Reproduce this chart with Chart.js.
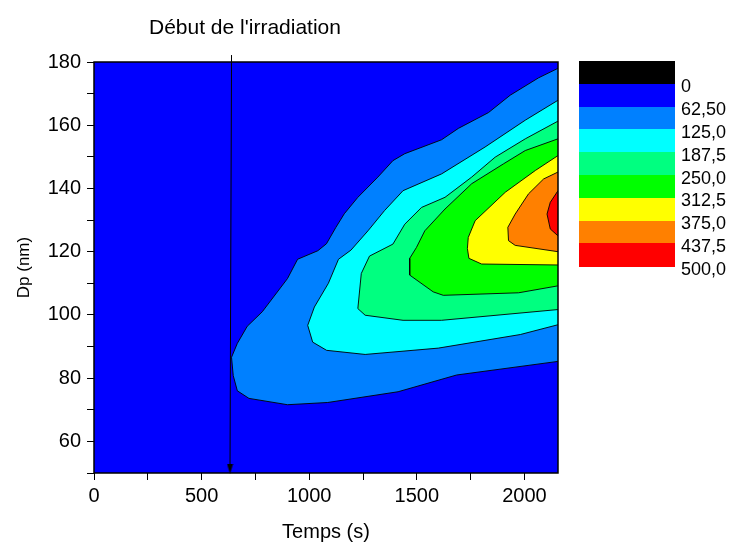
<!DOCTYPE html>
<html>
<head>
<meta charset="utf-8">
<script src="https://cdn.jsdelivr.net/npm/chart.js@4.4.0/dist/chart.umd.min.js"></script>
<style>
  html, body { margin: 0; padding: 0; background: #fff; }
  #wrap { position: relative; width: 733px; height: 543px; font-family: "Liberation Sans", Arial, sans-serif; color: #000; }
  #chart { position: absolute; left: 0; top: 0; }
  .note { position: absolute; left: 149px; top: 27px; transform: translateY(-50%); font-size: 21px; white-space: nowrap; }
  .keyBar { position: absolute; left: 579px; width: 96px; }
  .keyLabel { position: absolute; left: 681px; font-size: 18px; line-height: 1; transform: translateY(-50%); white-space: nowrap; }
</style>
</head>
<body>
<div id="wrap">
  <canvas id="chart" width="733" height="543"></canvas>
  <div class="note">Début de l'irradiation</div>
  <div id="legend"></div>
</div>
<script>
// =====================================================
// CONTOUR DATA (Temps in s, Dp in nm)
// =====================================================

const levelLabels = ["0", "62,50", "125,0", "187,5", "250,0", "312,5", "375,0", "437,5", "500,0"];
const levelColors = ["#000000", "#0000FF", "#0080FF", "#00FFFF", "#00FF80", "#00FF00", "#FFFF00", "#FF8000", "#FF0000"];

const xTicksMajor = [0, 500, 1000, 1500, 2000];
const yTicksMajor = [60, 80, 100, 120, 140, 160, 180];

// boundary of each level, both ends on the right edge
const c62 = [
  [2156, 178], [2066, 175], [1934, 169.5], [1833, 164], [1693, 159], [1615, 155.4],
  [1444, 151], [1389, 148.8], [1319, 143.6], [1226, 137.2], [1163, 132], [1124, 127.7],
  [1080, 122.5], [1040, 120.3], [946, 117.6], [899, 111.5], [782, 101], [712, 96.4],
  [666, 91], [639, 86.6], [647, 80.8], [666, 76], [720, 73.6], [899, 71.6],
  [1086, 72.3], [1413, 75.7], [1685, 81], [2156, 85.3],
];
const c125 = [
  [2156, 167.9], [2004, 161.6], [1817, 153.1], [1615, 144.6], [1436, 139.3], [1350, 133],
  [1273, 126.6], [1194, 120.5], [1136, 117.6], [1089, 110], [1024, 102.5], [993, 96.7],
  [1016, 91.4], [1081, 88.8], [1260, 87.5], [1600, 89.5], [1981, 93.8], [2156, 96.9],
];
const c187 = [
  [2156, 161.3], [2004, 155.7], [1864, 149.9], [1755, 143.6], [1631, 137.2], [1522, 134],
  [1444, 128.7], [1389, 122.4], [1280, 118.6], [1242, 113.1], [1226, 102], [1260, 99.9],
  [1436, 98.3], [1615, 98.3], [2156, 101.7],
];
const c250 = [
  [2156, 155.7], [2004, 152], [1903, 147.8], [1755, 141.5], [1631, 133.5], [1537, 126.6],
  [1498, 121.3], [1467, 117.9], [1467, 112.6], [1576, 107.3], [1623, 106.2], [1973, 107],
  [2156, 109.2],
];
const c312 = [
  [2156, 150.4], [2051, 145.7], [1911, 138.8], [1771, 129.8], [1739, 124.5], [1735, 121],
  [1742, 117.9], [1801, 116.1], [2156, 115.8],
];
const c375 = [
  [2156, 145.2], [2089, 143], [2019, 138.3], [1957, 131.9], [1923, 127.7], [1926, 123.5],
  [1957, 122], [2156, 120],
];
const c437 = [
  [2156, 139.3], [2120, 135.6], [2105, 131.9], [2120, 127.2], [2156, 125],
];

const irradiationLine = [[639, 182.2], [632, 51.3]];

// =====================================================
// LEGEND (colour key)
// =====================================================

const legendHost = document.getElementById("legend");
const keyTop = 61;
const keyStep = 22.8;

levelColors.forEach((col, i) => {
  const bar = document.createElement("div");
  bar.className = "keyBar";
  bar.style.top = keyTop + i * keyStep + "px";
  bar.style.height = keyStep + 0.4 + "px";
  bar.style.background = col;
  legendHost.appendChild(bar);

  const label = document.createElement("div");
  label.className = "keyLabel";
  label.style.top = keyTop + (i + 1) * keyStep + 2.5 + "px";
  label.textContent = levelLabels[i];
  legendHost.appendChild(label);
});

// =====================================================
// CHART
// =====================================================

const fontFamily = '"Liberation Sans", Arial, sans-serif';

// arrow head for the "start of irradiation" marker
const arrowHead = document.createElement("canvas");
arrowHead.width = 7;
arrowHead.height = 10;
{
  const a = arrowHead.getContext("2d");
  a.fillStyle = "#000";
  a.beginPath();
  a.moveTo(0.5, 0);
  a.lineTo(6.5, 0);
  a.lineTo(3.5, 10);
  a.closePath();
  a.fill();
}

const contours = [c62, c125, c187, c250, c312, c375, c437];

const datasets = contours.map((pts, i) => ({
  data: pts.map(([x, y]) => ({ x, y })),
  backgroundColor: levelColors[i + 2],
  borderColor: "rgba(0,0,0,0.9)",
  borderWidth: 1,
  fill: "shape",
  pointRadius: 0,
  tension: 0,
  order: contours.length - i + 1,
}));

datasets.push({
  data: irradiationLine.map(([x, y]) => ({ x, y })),
  borderColor: "#000",
  borderWidth: 1,
  fill: false,
  tension: 0,
  clip: false,
  pointRadius: [0, 5],
  pointStyle: (ctx) => (ctx.dataIndex === 1 ? arrowHead : "circle"),
  order: 0,
});

const plotBackground = {
  id: "plotBackground",
  beforeDraw(c) {
    const { ctx, chartArea: a } = c;
    ctx.save();
    ctx.fillStyle = levelColors[1];
    ctx.fillRect(a.left, a.top, a.right - a.left, a.bottom - a.top);
    ctx.restore();
  },
};

const plotFrame = {
  id: "plotFrame",
  afterDatasetsDraw(c) {
    const { ctx, chartArea: a } = c;
    ctx.save();
    ctx.strokeStyle = "#000";
    ctx.lineWidth = 1.5;
    ctx.strokeRect(a.left, a.top, a.right - a.left, a.bottom - a.top);
    ctx.restore();
  },
};

new Chart(document.getElementById("chart"), {
  type: "line",
  data: { datasets },
  plugins: [plotBackground, plotFrame],
  options: {
    responsive: false,
    animation: false,
    events: [],
    layout: { padding: { left: 0, right: 175, top: 62, bottom: 0 } },
    plugins: {
      legend: { display: false },
      tooltip: { enabled: false },
    },
    scales: {
      x: {
        type: "linear",
        min: 0,
        max: 2156,
        afterFit: (scale) => { scale.height = 70; },
        ticks: {
          stepSize: 250,
          includeBounds: false,
          autoSkip: false,
          maxRotation: 0,
          padding: 4,
          color: "#000",
          font: { family: fontFamily, size: 20 },
          callback: (v) => (xTicksMajor.includes(v) ? String(v) : ""),
        },
        grid: { drawOnChartArea: false, drawTicks: true, tickLength: 7, color: "#000" },
        border: { display: false },
        title: {
          display: true,
          text: "Temps (s)",
          color: "#000",
          font: { family: fontFamily, size: 20, lineHeight: 1.1 },
          padding: { top: 0, bottom: 0 },
        },
      },
      y: {
        type: "linear",
        min: 50,
        max: 180,
        afterFit: (scale) => { scale.width = 94; },
        ticks: {
          stepSize: 10,
          autoSkip: false,
          padding: 6,
          color: "#000",
          font: { family: fontFamily, size: 20 },
          callback: (v) => (yTicksMajor.includes(v) ? String(v) : ""),
        },
        grid: { drawOnChartArea: false, drawTicks: true, tickLength: 7, color: "#000" },
        border: { display: false },
        title: {
          display: true,
          text: "Dp (nm)",
          color: "#000",
          font: { family: fontFamily, size: 17, lineHeight: 1.2 },
          padding: { top: 14, bottom: 0 },
        },
      },
    },
  },
});
</script>
</body>
</html>
